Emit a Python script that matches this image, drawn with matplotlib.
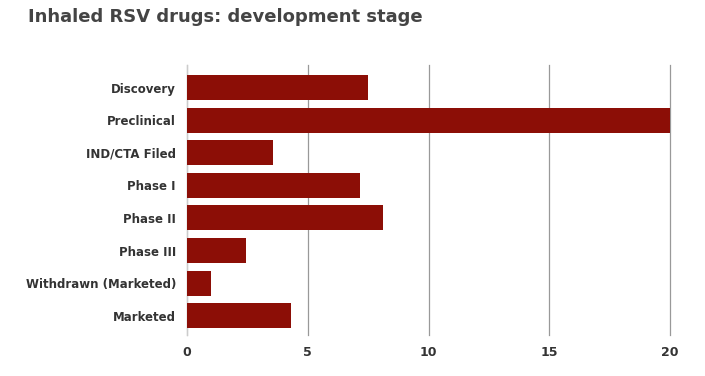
import matplotlib
matplotlib.use("Agg")
import matplotlib.pyplot as plt

categories = ["Discovery", "Preclinical", "IND/CTA Filed", "Phase I", "Phase II",
              "Phase III", "Withdrawn (Marketed)", "Marketed"]
values = [7.5, 20, 3.57, 7.16, 8.1, 2.44, 1.0, 4.3]
xticks = [0, 5, 10, 15, 20]

plt.rcParams['font.family'] = ['DejaVu Sans']

fig = plt.figure(figsize=(7.05, 3.76), dpi=100)
ax = fig.add_axes([187/705, 1-335/376, (670-187)/705, (335-65)/376])

y = list(range(len(categories)))
ax.barh(y, values, height=0.77, color="#8c0e06", zorder=3)
ax.set_xlim(0, 20)
ax.set_ylim(7.59, -0.69)
ax.set_yticks(y)
ax.set_yticklabels(categories, fontsize=8.5, fontweight='bold', color='#333333')
ax.set_xticks(xticks)
ax.set_xticklabels([str(t) for t in xticks], fontsize=9, fontweight='bold', color='#333333')
ax.tick_params(axis='both', length=0)
ax.tick_params(axis='y', pad=8)
ax.tick_params(axis='x', pad=8)
ax.grid(axis='x', color='#999999', linewidth=0.9, zorder=0)
for gl in ax.get_xgridlines():
    gl.set_clip_on(False)
for s in ['top', 'right', 'bottom']:
    ax.spines[s].set_visible(False)
ax.spines['left'].set_color('#cccccc')
ax.spines['left'].set_linewidth(0.8)

fig.text(28/705, 1-16.5/376, "Inhaled RSV drugs: development stage", fontsize=13,
         fontweight='bold', color='#444444', va='center', ha='left')

fig.savefig("out.png", dpi=100)
